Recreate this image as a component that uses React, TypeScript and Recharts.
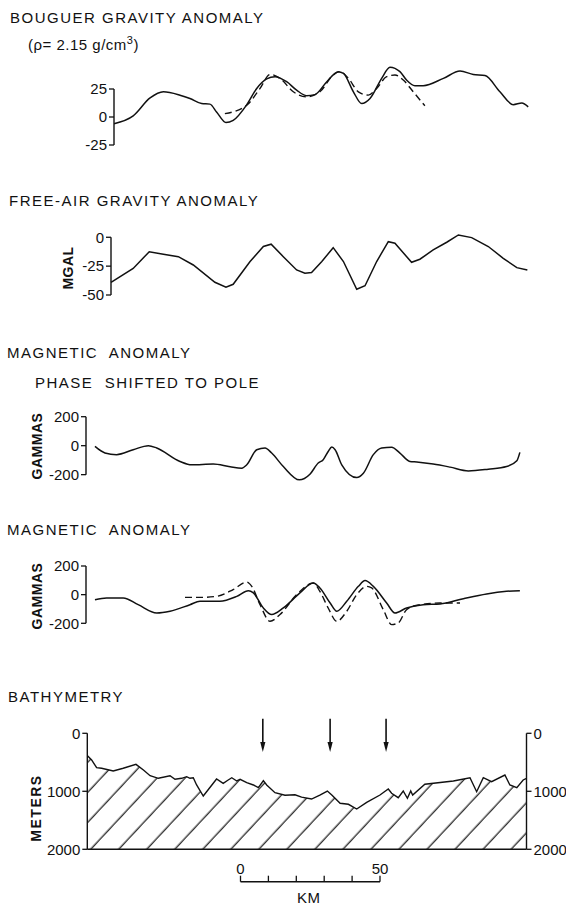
import React from "react";
import {
  LineChart,
  Line,
  AreaChart,
  Area,
  XAxis,
  YAxis,
  ReferenceLine,
} from "recharts";

const W = 566;
const H = 904;
const INK = "#111";
const FONT = '"Liberation Sans", Arial, sans-serif';

// horizontal scale shared by all profiles (km along track)
const KM0_PX = 239;
const PX_PER_KM = 2.77;
const kmAt = (px: number) => (px - KM0_PX) / PX_PER_KM;

// [km, mgal]
const BOUGUER_OBS = [
  [-45.1, -6], [-38.2, 1], [-32.1, 17], [-27.3, 22.5], [-21.3, 19.5], [-17.7, 16.5],
  [-13.5, 12], [-10.5, 11.5], [-8.1, 4.5], [-4.7, -5], [-2.1, -3], [2.8, 11], [6.4, 25.5],
  [10, 34], [13, 36], [17.2, 31.5], [20.8, 24], [24.4, 19], [27.4, 20], [31.7, 31.5],
  [35.8, 40.5], [37.7, 39], [41.3, 22.5], [44.3, 12], [47.3, 16.5], [51.5, 34.5],
  [54.5, 44.5], [58.1, 40.5], [60.5, 33], [63.5, 28], [66.5, 28], [73.8, 34.5],
  [79.8, 41], [84.6, 38], [88.8, 37], [94.2, 22.5], [99, 11], [102.1, 12.5], [104.4, 9],
];
const BOUGUER_MODEL = [
  [-5.1, 3], [2.8, 10.5], [7.6, 25.5], [11.2, 38], [14.8, 34.5], [19.6, 22.5], [24.4, 18],
  [29.2, 22.5], [34, 37.5], [36.5, 40.5], [39.5, 34.5], [43.1, 22.5], [46.7, 19.5],
  [49.7, 25.5], [53.3, 36], [56.3, 37.5], [59.3, 33], [62.9, 22.5], [67.1, 10],
];

// [km, mgal]
const FREE_AIR = [
  [-46.2, -39], [-38.2, -27], [-32.4, -12.5], [-27.3, -14.7], [-21.9, -16.8], [-16.5, -24],
  [-8.7, -39], [-4.7, -43.3], [-2.1, -40.7], [4, -21], [8.8, -8], [11.6, -6], [16, -16.8],
  [20.8, -28.3], [23.8, -31.2], [26.2, -30.6], [29.9, -21], [34, -9], [37.7, -21],
  [42.5, -45], [45.5, -42], [49.7, -21], [53.9, -3.8], [56.3, -5.2], [62.3, -21.7],
  [65.3, -19], [70.1, -11], [75, -4.3], [79.2, 2], [84, -0.3], [90, -8], [95.4, -18.2],
  [100.3, -26.3], [104.1, -28.3],
];

// [km, gammas]
const MAG_POLE = [
  [-52, -5], [-48.4, -50], [-44.2, -62], [-38.2, -28], [-32.7, 0], [-29.7, -16],
  [-21.3, -109], [-17.1, -132], [-9.3, -127], [-3.2, -146], [1, -155], [2.8, -132],
  [6.4, -28], [9.4, -16], [11.8, -51], [16, -144], [21.8, -236], [25.6, -197],
  [28.6, -120], [30.4, -97], [32.2, -40], [33.5, -9], [34.7, -28], [37.1, -132],
  [42.5, -220], [44.9, -190], [48.5, -62], [51.5, -16], [55.1, -11], [58.1, -51],
  [61.7, -109], [64.2, -113], [70.1, -127], [76.2, -148], [82.8, -174], [90, -162],
  [96.6, -144], [100.3, -104], [101.4, -46],
];

const MAG_OBS = [
  [-52, -35], [-47.8, -23], [-41.8, -23], [-36.4, -70], [-29.7, -128], [-24.9, -116],
  [-17.7, -70], [-14.1, -46], [-6.9, -46], [-0.8, -12], [3.4, 28], [5.2, 12], [8.8, -93],
  [11.8, -139], [16, -93], [22, 12], [26.8, 81], [29.2, 47], [32.9, -58], [35.3, -116],
  [38.9, -46], [43.1, 58], [45.5, 98], [48.5, 58], [53.3, -58], [56.3, -128], [60.5, -93],
  [66.5, -70], [72.6, -65], [81, -28], [89.4, 5], [96.6, 23], [101.4, 28],
];
const MAG_MODEL = [
  [-19.5, -19], [-14.1, -19], [-8.1, -12], [-2.1, 35], [2.8, 88], [4.6, 58], [7.6, -70],
  [11.2, -186], [14.8, -139], [20.8, 0], [26.8, 81], [29.2, 23], [32.2, -93], [35.3, -186],
  [38.9, -116], [42.5, 0], [46.1, 58], [47.9, 47], [52.1, -105], [55.1, -209], [57.5, -197],
  [60.5, -105], [65.3, -70], [72.6, -58], [79.8, -58],
];

// [km, metres]
const BATHY = [
  [-54.7, 386], [-53.2, 460], [-51.4, 593], [-49.6, 603], [-45.4, 650], [-41.8, 603],
  [-37.2, 535], [-34.5, 633], [-32.1, 731], [-29.1, 776], [-24.9, 731], [-23.1, 793],
  [-20.7, 776], [-18.9, 748], [-17.7, 776], [-16.5, 766], [-15.3, 891], [-12.9, 1081],
  [-11.7, 1007], [-8.1, 788], [-5.7, 862], [-3.9, 805], [-2.6, 766], [-0.8, 822],
  [0.4, 793], [2.8, 852], [5.2, 891], [7, 938], [8.8, 817], [10, 891], [13, 1024],
  [16.6, 1069], [20.2, 1059], [22.6, 1100], [26.2, 1133], [29.2, 1064], [31.9, 995],
  [33.5, 1064], [36.5, 1207], [39.5, 1224], [42.5, 1305], [46.1, 1190], [50.9, 1064],
  [53.9, 960], [55.1, 1034], [57.5, 1110], [59.3, 995], [60.8, 1121], [62, 995],
  [62.7, 1064], [67.1, 879], [77.4, 822], [83.4, 766], [85.8, 1007], [88.2, 766],
  [91.2, 834], [96, 719], [97.8, 891], [100.3, 938], [102.6, 805], [103.8, 776],
];
const ARROWS_KM = [8.6, 32.9, 53.1];
const DEPTH_TICKS = [0, 1000, 2000];
const SCALE_KM = [0, 10, 20, 30, 40, 50];

const rows = (pts: number[][]) => pts.map(([km, v]) => ({ km, v }));

const tickStyle = { fill: INK, fontSize: 15, fontFamily: FONT };
const tickLine = { stroke: INK, strokeWidth: 1.3 };
const AXW = 30;

type Box = { left: number; right: number; top: number; bottom: number };

const marginFor = (b: Box, rightAxis = false) => ({
  top: b.top,
  bottom: H - b.bottom,
  left: b.left - AXW,
  right: W - b.right - (rightAxis ? AXW : 0),
});

function Profile({
  box,
  yDomain,
  axisSpan,
  ticks,
  solid,
  dashed,
  curve,
}: {
  box: Box;
  yDomain: [number, number];
  axisSpan: [number, number];
  ticks: number[];
  solid: number[][];
  dashed?: number[][];
  curve: "monotone" | "linear";
}) {
  const x0 = kmAt(box.left);
  const x1 = kmAt(box.right);
  return (
    <div style={{ position: "absolute", left: 0, top: 0 }}>
      <LineChart width={W} height={H} margin={marginFor(box)}>
        <XAxis type="number" dataKey="km" domain={[x0, x1]} hide />
        <YAxis
          type="number"
          domain={yDomain}
          ticks={ticks}
          interval={0}
          width={AXW}
          axisLine={false}
          tickLine={tickLine}
          tickSize={5}
          tickMargin={2}
          tick={tickStyle}
        />
        <ReferenceLine
          ifOverflow="visible"
          segment={[{ x: x0, y: axisSpan[0] }, { x: x0, y: axisSpan[1] }]}
          stroke={INK}
          strokeWidth={1.4}
        />
        <Line
          data={rows(solid)}
          dataKey="v"
          type={curve}
          stroke={INK}
          strokeWidth={1.5}
          dot={false}
          isAnimationActive={false}
        />
        {dashed && (
          <Line
            data={rows(dashed)}
            dataKey="v"
            type={curve}
            stroke={INK}
            strokeWidth={1.4}
            strokeDasharray="7 4"
            dot={false}
            isAnimationActive={false}
          />
        )}
      </LineChart>
    </div>
  );
}

function Arrow(p: any) {
  const { x1, y1, x2, y2 } = p;
  return (
    <g>
      <line x1={x1} y1={y1} x2={x2} y2={y2 - 8} stroke={INK} strokeWidth={1.6} />
      <path d={`M${x2 - 2.6},${y2 - 10} L${x2 + 2.6},${y2 - 10} L${x2},${y2} Z`} fill={INK} />
    </g>
  );
}

function Bathymetry() {
  const box = { left: 87.3, right: 526.5, top: 733.3, bottom: 849.3 };
  const x0 = kmAt(box.left);
  const x1 = kmAt(box.right);
  const axisProps = {
    type: "number" as const,
    domain: [0, 2000],
    reversed: true,
    ticks: DEPTH_TICKS,
    interval: 0,
    width: AXW,
    tickSize: 5,
    tickMargin: 2,
    tick: tickStyle,
    tickLine,
    axisLine: { stroke: INK, strokeWidth: 1.4 },
  };
  return (
    <div style={{ position: "absolute", left: 0, top: 0 }}>
      <AreaChart width={W} height={H} data={rows(BATHY)} margin={marginFor(box, true)}>
        <defs>
          <pattern
            id="bathyHatch"
            patternUnits="userSpaceOnUse"
            width={20.5}
            height={20.5}
            patternTransform="rotate(43)"
          >
            <line x1={10} y1={0} x2={10} y2={20.5} stroke={INK} strokeWidth={1.2} />
          </pattern>
        </defs>
        <XAxis type="number" dataKey="km" domain={[x0, x1]} hide />
        <YAxis yAxisId="l" orientation="left" {...axisProps} />
        <YAxis yAxisId="r" orientation="right" {...axisProps} />
        <Area
          yAxisId="l"
          dataKey="v"
          type="linear"
          baseValue={2000}
          stroke={INK}
          strokeWidth={1.4}
          fill="url(#bathyHatch)"
          fillOpacity={1}
          isAnimationActive={false}
        />
        <Area
          yAxisId="r"
          dataKey="v"
          type="linear"
          stroke="none"
          fill="none"
          isAnimationActive={false}
        />
        <ReferenceLine yAxisId="l" y={2000} stroke={INK} strokeWidth={1.4} />
        {ARROWS_KM.map((km) => (
          <ReferenceLine
            key={km}
            yAxisId="l"
            ifOverflow="visible"
            segment={[{ x: km, y: -250 }, { x: km, y: 322 }]}
            shape={Arrow}
          />
        ))}
      </AreaChart>
    </div>
  );
}

function ScaleBar() {
  // km scale bar under the bathymetry, ticks every 10 km
  const box = { left: 240.5, right: 380, top: 881.7, bottom: 892 };
  const axisH = 30;
  return (
    <div style={{ position: "absolute", left: 0, top: 0 }}>
      <LineChart
        width={W}
        height={H}
        data={SCALE_KM.map((km) => ({ km, v: 0 }))}
        margin={{
          top: box.top - axisH,
          bottom: H - box.bottom,
          left: box.left,
          right: W - box.right,
        }}
      >
        <XAxis
          type="number"
          dataKey="km"
          orientation="top"
          domain={[0, 50]}
          ticks={SCALE_KM}
          interval={0}
          height={axisH}
          tickSize={6}
          tickMargin={2}
          tick={tickStyle}
          tickLine={tickLine}
          axisLine={{ stroke: INK, strokeWidth: 1.4 }}
          tickFormatter={(v) => (v === 0 || v === 50 ? String(v) : "")}
        />
        <YAxis hide width={0} domain={[0, 1]} />
        <Line dataKey="v" stroke="none" dot={false} isAnimationActive={false} />
      </LineChart>
    </div>
  );
}

function Title({ x, y, size = 15, spacing = 1.5, children }: any) {
  return (
    <div
      style={{
        position: "absolute",
        left: x,
        top: y - size * 0.5,
        fontFamily: FONT,
        fontSize: size,
        letterSpacing: spacing,
        lineHeight: 1,
        color: INK,
        whiteSpace: "pre",
      }}
    >
      {children}
    </div>
  );
}

function AxisName({ x, y, children, spacing = 0.5 }: any) {
  return (
    <div
      style={{
        position: "absolute",
        left: x,
        top: y,
        transform: "translate(-50%, -50%) rotate(-90deg)",
        fontFamily: FONT,
        fontWeight: 700,
        fontSize: 14,
        letterSpacing: spacing,
        lineHeight: 1,
        color: INK,
        whiteSpace: "nowrap",
      }}
    >
      {children}
    </div>
  );
}

export default function App() {
  return (
    <div style={{ position: "absolute", left: 0, top: 0, width: W, height: H, background: "#fff" }}>
      <Title x={10} y={17}>BOUGUER GRAVITY ANOMALY</Title>
      <Title x={28} y={42} spacing={0.5}>
        (ρ= 2.15 g/cm<sup style={{ fontSize: 11 }}>3</sup>)
      </Title>
      <Title x={9} y={200}>FREE-AIR GRAVITY ANOMALY</Title>
      <Title x={7} y={352}>MAGNETIC  ANOMALY</Title>
      <Title x={35} y={382}>PHASE  SHIFTED TO POLE</Title>
      <Title x={7} y={529}>MAGNETIC  ANOMALY</Title>
      <Title x={8} y={696}>BATHYMETRY</Title>
      <Title x={297} y={897} spacing={0.5}>KM</Title>

      <AxisName x={68} y={268}>MGAL</AxisName>
      <AxisName x={37} y={446}>GAMMAS</AxisName>
      <AxisName x={37} y={596}>GAMMAS</AxisName>
      <AxisName x={36} y={808} spacing={1.5}>METERS</AxisName>

      <Profile
        box={{ left: 114, right: 529, top: 61, bottom: 145 }}
        yDomain={[-25, 50]}
        axisSpan={[-25, 25]}
        ticks={[-25, 0, 25]}
        solid={BOUGUER_OBS}
        dashed={BOUGUER_MODEL}
        curve="monotone"
      />
      <Profile
        box={{ left: 111, right: 528, top: 231.5, bottom: 295 }}
        yDomain={[-50, 5]}
        axisSpan={[-50, 0]}
        ticks={[-50, -25, 0]}
        solid={FREE_AIR}
        curve="linear"
      />
      <Profile
        box={{ left: 86, right: 521, top: 416.7, bottom: 481.9 }}
        yDomain={[-250, 200]}
        axisSpan={[-200, 200]}
        ticks={[-200, 0, 200]}
        solid={MAG_POLE}
        curve="monotone"
      />
      <Profile
        box={{ left: 86, right: 521, top: 566, bottom: 627.6 }}
        yDomain={[-230, 200]}
        axisSpan={[-200, 200]}
        ticks={[-200, 0, 200]}
        solid={MAG_OBS}
        dashed={MAG_MODEL}
        curve="monotone"
      />
      <Bathymetry />
      <ScaleBar />
    </div>
  );
}
